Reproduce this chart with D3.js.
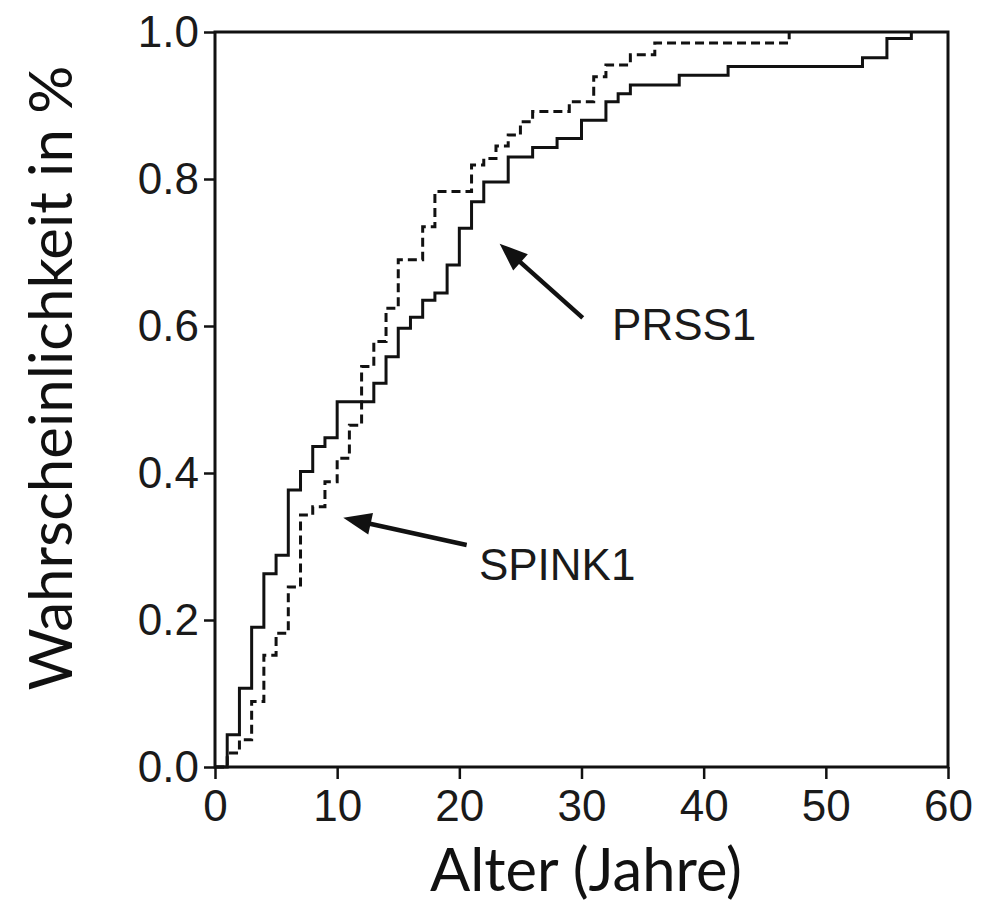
<!DOCTYPE html>
<html>
<head>
<meta charset="utf-8">
<script src="https://cdn.jsdelivr.net/npm/d3@7/dist/d3.min.js"></script>
<style>
  html, body { margin: 0; padding: 0; background: #fff; }
  svg { display: block; }
</style>
</head>
<body>
<svg id="chart" width="982" height="913"></svg>
<script>
// ---- data ----
const prss1Ages = [0, 1, 2, 3, 4, 5, 6, 7, 8, 9, 10, 13, 14, 15, 16, 17, 18, 19, 20, 21, 22, 24, 26, 28, 30, 32, 33, 34, 38, 42, 53, 55, 57];
const prss1Prob = [0, 0.044, 0.107, 0.19, 0.263, 0.288, 0.377, 0.402, 0.436, 0.448, 0.497, 0.522, 0.558, 0.597, 0.612, 0.635, 0.645, 0.683, 0.733, 0.769, 0.796, 0.830, 0.843, 0.855, 0.880, 0.905, 0.916, 0.928, 0.941, 0.953, 0.965, 0.991, 1.0];

const spink1Ages = [0, 1, 2, 3, 4, 5, 6, 7, 8, 9, 10, 11, 12, 13, 14, 15, 17, 18, 21, 22, 23, 24, 25, 26, 29, 31, 32, 34, 36, 47];
const spink1Prob = [0, 0.019, 0.037, 0.089, 0.152, 0.182, 0.245, 0.343, 0.354, 0.388, 0.42, 0.465, 0.545, 0.579, 0.624, 0.690, 0.735, 0.783, 0.819, 0.828, 0.845, 0.860, 0.878, 0.892, 0.905, 0.939, 0.955, 0.969, 0.985, 1.0];

const xTicks = [0, 10, 20, 30, 40, 50, 60];
const yTicks = [0, 0.2, 0.4, 0.6, 0.8, 1.0];

const xTitle = "Alter (Jahre)";
const yTitle = "Wahrscheinlichkeit in %";

// annotations: label, arrow tip [age, prob], arrow tail [age, prob], label anchor [age, prob]
const annLabels = ["PRSS1", "SPINK1"];
const annTips = [[23.3, 0.712], [10.5, 0.339]];
const annTails = [[30.1, 0.611], [20.6, 0.302]];
const annText = [[32.5, 0.581], [21.6, 0.254]];

// ---- chart ----
const svg = d3.select("#chart");
const x = d3.scaleLinear().domain([0, 60]).range([215, 948]);
const y = d3.scaleLinear().domain([0, 1]).range([767, 32]);
const ink = "#111";
const tickFont = "'Liberation Sans', Arial, Helvetica, sans-serif";

// axes
const gx = svg.append("g").attr("transform", `translate(0,${y(0)})`)
  .call(d3.axisBottom(x).tickValues(xTicks).tickSize(12).tickPadding(11).tickFormat(d3.format("d")));
const gy = svg.append("g").attr("transform", `translate(${x(0)},0)`)
  .call(d3.axisLeft(y).tickValues(yTicks).tickSize(11).tickPadding(5).tickFormat(d3.format(".1f")));
[gx, gy].forEach(g => {
  g.select(".domain").remove();
  g.selectAll(".tick line").attr("stroke", ink).attr("stroke-width", 2.5);
  g.selectAll(".tick text").attr("fill", "#1a1a1a").style("font-family", tickFont).style("font-size", "44px");
});

// frame
const frame = svg.append("g").attr("stroke", ink).attr("stroke-width", 3).attr("fill", "none");
frame.append("rect")
  .attr("x", x(0)).attr("y", y(1))
  .attr("width", x(60) - x(0)).attr("height", y(0) - y(1));

// step lines
const stepLine = d3.line().x(d => x(d[0])).y(d => y(d[1])).curve(d3.curveStepAfter);
const prss1 = prss1Ages.map((a, i) => [a, prss1Prob[i]]);
const spink1 = spink1Ages.map((a, i) => [a, spink1Prob[i]]);

svg.append("path").datum(spink1)
  .attr("d", stepLine)
  .attr("fill", "none").attr("stroke", ink).attr("stroke-width", 3)
  .attr("stroke-dasharray", "9,5");

svg.append("path").datum(prss1)
  .attr("d", stepLine)
  .attr("fill", "none").attr("stroke", ink).attr("stroke-width", 3);

// annotations
annLabels.forEach((lab, i) => {
  const tx = x(annTips[i][0]), ty = y(annTips[i][1]);
  const sx = x(annTails[i][0]), sy = y(annTails[i][1]);
  const ang = Math.atan2(ty - sy, tx - sx);
  const headLen = 28, headW = 11;
  const bx = tx - headLen * Math.cos(ang), by = ty - headLen * Math.sin(ang);
  svg.append("line")
    .attr("x1", sx).attr("y1", sy).attr("x2", bx + 3 * Math.cos(ang)).attr("y2", by + 3 * Math.sin(ang))
    .attr("stroke", ink).attr("stroke-width", 4.5);
  const px = -Math.sin(ang), py = Math.cos(ang);
  svg.append("path")
    .attr("d", `M${tx},${ty}L${bx + headW * px},${by + headW * py}L${bx - headW * px},${by - headW * py}Z`)
    .attr("fill", ink);
  svg.append("text")
    .attr("x", x(annText[i][0])).attr("y", y(annText[i][1]))
    .attr("fill", "#1a1a1a")
    .style("font-family", tickFont).style("font-size", "44px")
    .text(lab);
});

// titles
const titleFont = "Lato, 'Open Sans', 'Noto Sans', sans-serif";
function fitText(sel, target) {
  const len = sel.node().getComputedTextLength();
  const fs = 60 * target / len;
  sel.style("font-size", fs + "px");
}
const xt = svg.append("text")
  .attr("x", 586).attr("y", 891)
  .attr("text-anchor", "middle")
  .attr("fill", "#111")
  .style("font-family", titleFont).style("font-size", "60px")
  .text(xTitle);
fitText(xt, 312);

const yt = svg.append("text")
  .attr("transform", "translate(72,378) rotate(-90)")
  .attr("text-anchor", "middle")
  .attr("fill", "#111")
  .style("font-family", titleFont).style("font-size", "60px")
  .text(yTitle);
fitText(yt, 625);
</script>
</body>
</html>
